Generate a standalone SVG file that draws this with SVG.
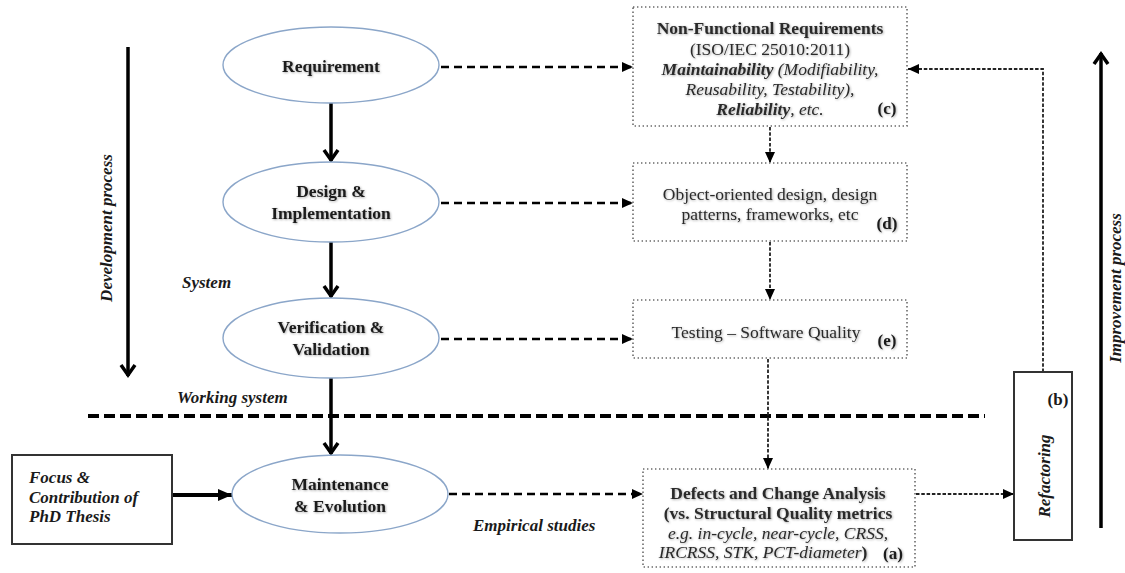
<svg xmlns="http://www.w3.org/2000/svg" width="1125" height="573" viewBox="0 0 1125 573">
  <style>
    .phase { fill: #ffffff; stroke: #8ba6c9; stroke-width: 1.4; }
    .note { fill: #ffffff; stroke: #6a6a6a; stroke-width: 1.6; stroke-dasharray: 1.4 2.6; }
    .frame { fill: #ffffff; stroke: #333333; stroke-width: 2; }
    .nt { font-family: "Liberation Serif", "Times New Roman", serif; font-size: 17.5px; font-weight: bold; fill: #1a1a1a; text-anchor: middle; }
    .bt { font-family: "Liberation Serif", "Times New Roman", serif; font-size: 17.5px; fill: #2a2a2a; text-anchor: middle; }
    .bi { font-style: italic; }
    .bb { font-weight: bold; }
    .tag { font-family: "Liberation Serif", "Times New Roman", serif; font-size: 17px; font-weight: bold; fill: #1a1a1a; }
    .lbl { font-family: "Liberation Serif", "Times New Roman", serif; font-size: 17px; font-weight: bold; font-style: italic; fill: #1a1a1a; }
    .solid { fill: none; stroke: #000000; stroke-width: 3.5; }
    .dash { fill: none; stroke: #000000; stroke-width: 2.4; stroke-dasharray: 8 5; }
    .fine { fill: none; stroke: #222222; stroke-width: 1.8; stroke-dasharray: 3.5 1.8; }
    .divider { fill: none; stroke: #000000; stroke-width: 4; stroke-dasharray: 11 5; }
    .soft { filter: url(#glow); }
  </style>
  <defs>
    <filter id="glow" x="-10%" y="-30%" width="120%" height="160%">
      <feDropShadow dx="0.8" dy="0.8" stdDeviation="0.9" flood-color="#000000" flood-opacity="0.35"/>
    </filter>
    <marker id="tri" markerUnits="userSpaceOnUse" viewBox="0 0 11 10" markerWidth="11" markerHeight="10" refX="11" refY="5" orient="auto">
      <path d="M0,0 L11,5 L0,10 z" fill="#000000"/>
    </marker>
    <marker id="bigtri" markerUnits="userSpaceOnUse" viewBox="0 0 14 12" markerWidth="14" markerHeight="12" refX="14" refY="6" orient="auto">
      <path d="M0,0 L14,6 L0,12 z" fill="#000000"/>
    </marker>
    <marker id="chev" markerUnits="userSpaceOnUse" viewBox="-3 -3 17 20" markerWidth="17" markerHeight="20" refX="11" refY="7" orient="auto">
      <path d="M0,0 L10,7 L0,14" fill="none" stroke="#000000" stroke-width="3.5" stroke-linejoin="miter"/>
    </marker>
  </defs>

  <!-- process axes and free labels -->
  <g id="axes">
    <line class="solid" x1="128" y1="47" x2="128" y2="376" marker-end="url(#chev)"/>
    <text class="lbl" transform="translate(112,228) rotate(-90)" text-anchor="middle">Development process</text>
    <line class="solid" x1="1101" y1="528" x2="1101" y2="53" marker-end="url(#chev)"/>
    <text class="lbl" font-size="16" transform="translate(1121,288) rotate(-90)" text-anchor="middle">Improvement process</text>
    <text class="lbl" x="182" y="288">System</text>
    <text class="lbl" x="177" y="403">Working system</text>
    <text class="lbl" x="473" y="531">Empirical studies</text>
    <line class="divider" x1="88" y1="416" x2="985" y2="416"/>
  </g>

  <!-- connectors -->
  <g id="connectors">
    <line class="solid" x1="331" y1="103" x2="331" y2="161" marker-end="url(#chev)"/>
    <line class="solid" x1="331" y1="242" x2="331" y2="297" marker-end="url(#chev)"/>
    <line class="solid" x1="331" y1="378" x2="331" y2="454" marker-end="url(#chev)"/>
    <line fill="none" stroke="#000000" stroke-width="4" x1="172" y1="495" x2="232" y2="495" marker-end="url(#bigtri)"/>
    <line class="dash" x1="441" y1="67" x2="633" y2="67" marker-end="url(#tri)"/>
    <line class="dash" x1="441" y1="203" x2="633" y2="203" marker-end="url(#tri)"/>
    <line class="dash" x1="441" y1="339" x2="633" y2="339" marker-end="url(#tri)"/>
    <line class="dash" x1="449" y1="494" x2="643" y2="494" marker-end="url(#tri)"/>
    <line class="fine" x1="770" y1="127" x2="770" y2="163" marker-end="url(#tri)"/>
    <line class="fine" x1="770" y1="242" x2="770" y2="300" marker-end="url(#tri)"/>
    <line class="fine" x1="768" y1="359" x2="768" y2="469" marker-end="url(#tri)"/>
    <line class="fine" x1="916" y1="494" x2="1014" y2="494" marker-end="url(#tri)"/>
    <polyline class="fine" points="1043,372 1043,69 908,69" marker-end="url(#tri)"/>
  </g>

  <!-- life-cycle phases -->
  <g id="requirement">
    <ellipse class="phase" cx="331" cy="65" rx="108" ry="38"/>
    <text class="nt soft" x="331" y="72" font-size="18.5">Requirement</text>
  </g>
  <g id="design">
    <ellipse class="phase" cx="331" cy="202" rx="108" ry="40"/>
    <text class="nt soft" x="331" y="197">Design &amp;</text>
    <text class="nt soft" x="331" y="219">Implementation</text>
  </g>
  <g id="verification">
    <ellipse class="phase" cx="331" cy="338" rx="108" ry="40"/>
    <text class="nt soft" x="331" y="333">Verification &amp;</text>
    <text class="nt soft" x="331" y="355">Validation</text>
  </g>
  <g id="maintenance">
    <ellipse class="phase" cx="340" cy="494" rx="108" ry="39"/>
    <text class="nt soft" x="340" y="490">Maintenance</text>
    <text class="nt soft" x="340" y="512">&amp; Evolution</text>
  </g>

  <!-- annotation boxes -->
  <g id="nfr">
    <rect class="note" x="633" y="7" width="274" height="119"/>
    <text class="bt soft" x="770" y="34" font-size="18.3"><tspan class="bb">Non-Functional Requirements</tspan></text>
    <text class="bt soft" x="770" y="55">(ISO/IEC 25010:2011)</text>
    <text class="bt soft bi" x="770" y="75"><tspan class="bb">Maintainability</tspan> (Modifiability,</text>
    <text class="bt soft bi" x="770" y="95">Reusability, Testability),</text>
    <text class="bt soft bi" x="770" y="115"><tspan class="bb">Reliability</tspan>, etc.</text>
    <text class="tag soft" x="887" y="114" text-anchor="middle">(c)</text>
  </g>
  <g id="oo-design">
    <rect class="note" x="633" y="163" width="274" height="78"/>
    <text class="bt soft" x="770" y="200">Object-oriented design, design</text>
    <text class="bt soft" x="770" y="220">patterns, frameworks, etc</text>
    <text class="tag soft" x="887" y="229" text-anchor="middle">(d)</text>
  </g>
  <g id="testing">
    <rect class="note" x="633" y="300" width="274" height="58"/>
    <text class="bt soft" x="766" y="338">Testing – Software Quality</text>
    <text class="tag soft" x="887" y="346" text-anchor="middle">(e)</text>
  </g>
  <g id="defects">
    <rect class="note" x="643" y="469" width="272" height="98"/>
    <text class="bt soft bb" x="778" y="499">Defects and Change Analysis</text>
    <text class="bt soft bb" x="778" y="519">(vs. Structural Quality metrics</text>
    <text class="bt soft bi" x="778" y="539">e.g. in-cycle, near-cycle, CRSS,</text>
    <text class="bt soft" x="763" y="558"><tspan class="bi">IRCRSS, STK, PCT-diameter</tspan><tspan class="bb">)</tspan></text>
    <text class="tag soft" x="893" y="559" text-anchor="middle">(a)</text>
  </g>
  <g id="refactoring">
    <rect class="frame" x="1014" y="372" width="58" height="168"/>
    <text class="lbl" font-size="23" transform="translate(1050,476) rotate(-90)" text-anchor="middle">Refactoring</text>
    <text class="tag" x="1058" y="405" text-anchor="middle">(b)</text>
  </g>
  <g id="thesis">
    <rect class="frame" x="12" y="455" width="160" height="89"/>
    <text class="lbl" x="29" y="483">Focus &amp;</text>
    <text class="lbl" x="29" y="503">Contribution of</text>
    <text class="lbl" x="29" y="522">PhD Thesis</text>
  </g>
</svg>
